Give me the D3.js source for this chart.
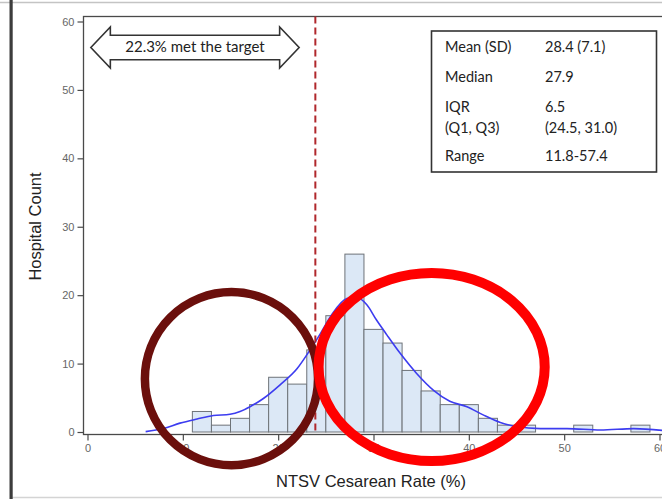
<!DOCTYPE html>
<html>
<head>
<meta charset="utf-8">
<script src="https://cdn.jsdelivr.net/npm/d3@7/dist/d3.min.js"></script>
<style>
  html, body { margin: 0; padding: 0; background: #fff; }
  svg { display: block; }
</style>
</head>
<body>
<svg id="chart" width="662" height="499"></svg>
<script>
// Histogram of hospital NTSV cesarean rates (2-point bins, left edges)
const binStarts = [11, 13, 15, 17, 19, 21, 23, 25, 27, 29, 31, 33, 35, 37, 39, 41, 43, 45, 47, 49, 51, 53, 55, 57];
const binCounts = [3, 1, 2, 4, 8, 7, 12, 17, 26, 15, 13, 9, 6, 4, 4, 2, 1, 1, 0, 0, 1, 0, 0, 1];
const binWidth = 2;

// Kernel density curve, scaled to counts per bin
const densityX = [6.1, 7.95, 9.7, 11.5, 13.2, 14.95, 16.0, 17.05, 18.45, 20.2, 21.95, 23.35, 24.4, 25.6, 27.2, 28.2, 29.3, 30.3, 31.4, 32.8, 34.5, 36.3, 38.0, 39.8, 41.5, 43.3, 45.0, 47.5, 50.3, 53.8, 57.3, 60.5];
const densityY = [0.05, 0.5, 1.3, 1.9, 2.4, 2.6, 3.0, 3.7, 4.9, 6.9, 9.2, 12.0, 14.3, 17.1, 19.5, 19.7, 18.6, 16.4, 14.2, 11.5, 8.6, 6.1, 4.5, 3.7, 2.5, 1.4, 0.8, 0.5, 0.5, 0.3, 0.5, 0.2];

const xTicks = [0, 10, 20, 30, 40, 50, 60];
const yTicks = [0, 10, 20, 30, 40, 50, 60];
const target = 23.9;
const targetLabel = "22.3% met the target";

const statLabels = ["Mean (SD)", "Median", "IQR|(Q1, Q3)", "Range"];
const statValues = ["28.4 (7.1)", "27.9", "6.5|(24.5, 31.0)", "11.8-57.4"];

const xTitle = "NTSV Cesarean Rate (%)";
const yTitle = "Hospital Count";

const svg = d3.select("#chart");

const x = d3.scaleLinear().domain([0, 60]).range([87.5, 659.5]);
const y = d3.scaleLinear().domain([0, 60]).range([432, 21.5]);

const frame = { left: 83.5, top: 16.5, right: 668, bottom: 434.5 };

// page border lines
svg.append("line").attr("x1", 0).attr("x2", 662).attr("y1", 2.5).attr("y2", 2.5)
  .attr("stroke", "#c4c4c4").attr("stroke-width", 1.5);
svg.append("line").attr("x1", 12).attr("x2", 662).attr("y1", 497.5).attr("y2", 497.5)
  .attr("stroke", "#d4d4d4").attr("stroke-width", 1.5);
svg.append("rect").attr("x", 9.5).attr("y", 0).attr("width", 3.2).attr("height", 499)
  .attr("fill", "#3c3c3c");

// plot frame
svg.append("rect")
  .attr("x", frame.left).attr("y", frame.top)
  .attr("width", frame.right - frame.left).attr("height", frame.bottom - frame.top)
  .attr("fill", "none").attr("stroke", "#4a4a4a").attr("stroke-width", 1.3);

// bars
svg.append("g").selectAll("rect")
  .data(binStarts.map((s, i) => ({ s, c: binCounts[i] })).filter(d => d.c > 0))
  .join("rect")
  .attr("x", d => x(d.s))
  .attr("y", d => y(d.c))
  .attr("width", d => x(d.s + binWidth) - x(d.s))
  .attr("height", d => y(0) - y(d.c))
  .attr("fill", "#dce8f6")
  .attr("stroke", "#6e7378")
  .attr("stroke-width", 1);

// density curve
const line = d3.line().x(d => x(d[0])).y(d => y(d[1])).curve(d3.curveMonotoneX);
svg.append("path")
  .datum(densityX.map((v, i) => [v, densityY[i]]))
  .attr("d", line)
  .attr("fill", "none")
  .attr("stroke", "#3c3cf0")
  .attr("stroke-width", 1.6);

// target line
svg.append("line")
  .attr("x1", x(target)).attr("x2", x(target))
  .attr("y1", frame.top).attr("y2", frame.bottom)
  .attr("stroke", "#b0282c").attr("stroke-width", 2)
  .attr("stroke-dasharray", "7,4");

// y axis
const yAxis = svg.append("g").attr("transform", `translate(${frame.left},0)`)
  .call(d3.axisLeft(y).tickValues(yTicks).tickSize(6).tickPadding(3));
// x axis
const xAxis = svg.append("g").attr("transform", `translate(0,${frame.bottom})`)
  .call(d3.axisBottom(x).tickValues(xTicks).tickSize(6).tickPadding(4));
[yAxis, xAxis].forEach(a => {
  a.select(".domain").remove();
  a.selectAll(".tick line").attr("stroke", "#4a4a4a").attr("stroke-width", 1.2);
  a.selectAll(".tick text").attr("fill", "#666").attr("font-size", 11)
    .attr("font-family", "'Liberation Sans', Arial, sans-serif");
});

// axis titles
svg.append("text").attr("x", 371).attr("y", 486.5).attr("text-anchor", "middle")
  .attr("font-family", "'Liberation Sans', Arial, sans-serif").attr("font-size", 16.5)
  .attr("fill", "#222").text(xTitle);
svg.append("text").attr("transform", "translate(40.5,226.5) rotate(-90)")
  .attr("text-anchor", "middle")
  .attr("font-family", "'Liberation Sans', Arial, sans-serif").attr("font-size", 16.5)
  .attr("fill", "#222").text(yTitle);

// double-headed arrow annotation
const ax0 = x(0.35), ax1 = x(22.2), ay = y(56.2);
const headLen = 19.5, headHalf = 20.5, shaftHalf = 12.2;
const arrowPts = [
  [ax0, ay], [ax0 + headLen, ay - headHalf], [ax0 + headLen, ay - shaftHalf],
  [ax1 - headLen, ay - shaftHalf], [ax1 - headLen, ay - headHalf], [ax1, ay],
  [ax1 - headLen, ay + headHalf], [ax1 - headLen, ay + shaftHalf],
  [ax0 + headLen, ay + shaftHalf], [ax0 + headLen, ay + headHalf]
];
svg.append("polygon").attr("points", arrowPts.map(p => p.join(",")).join(" "))
  .attr("fill", "#fff").attr("stroke", "#333").attr("stroke-width", 1.6)
  .attr("stroke-linejoin", "miter");
svg.append("text").attr("x", (ax0 + ax1) / 2).attr("y", ay + 5)
  .attr("text-anchor", "middle").attr("font-family", "Lato, 'Open Sans', sans-serif")
  .attr("font-size", 15).attr("fill", "#222").text(targetLabel);

// summary statistics box
const box = { x: 431.5, y: 31, w: 225, h: 141 };
svg.append("rect").attr("x", box.x).attr("y", box.y).attr("width", box.w).attr("height", box.h)
  .attr("fill", "#fff").attr("stroke", "#333").attr("stroke-width", 1.6);
const rowY = [51.5, 81.5, 111.5, 160.5];
const g = svg.append("g").attr("font-family", "Lato, 'Open Sans', sans-serif")
  .attr("font-size", 14.5).attr("fill", "#222");
statLabels.forEach((lab, i) => {
  lab.split("|").forEach((part, j) => {
    g.append("text").attr("x", 445).attr("y", rowY[i] + j * 21.5).text(part);
  });
  statValues[i].split("|").forEach((part, j) => {
    g.append("text").attr("x", 545).attr("y", rowY[i] + j * 21.5).text(part);
  });
});

// highlight rings drawn over the plot
svg.append("ellipse")
  .attr("cx", x(15.1)).attr("cy", y(7.8))
  .attr("rx", x(15.1 + 9.08) - x(15.1)).attr("ry", y(0) - y(12.65))
  .attr("fill", "none").attr("stroke", "#6b0f0c").attr("stroke-width", 8.5);
svg.append("ellipse")
  .attr("cx", x(36.1)).attr("cy", y(9.5))
  .attr("rx", x(36.1 + 11.86) - x(36.1)).attr("ry", y(0) - y(13.74))
  .attr("fill", "none").attr("stroke", "#ff0000").attr("stroke-width", 10);
</script>
</body>
</html>
